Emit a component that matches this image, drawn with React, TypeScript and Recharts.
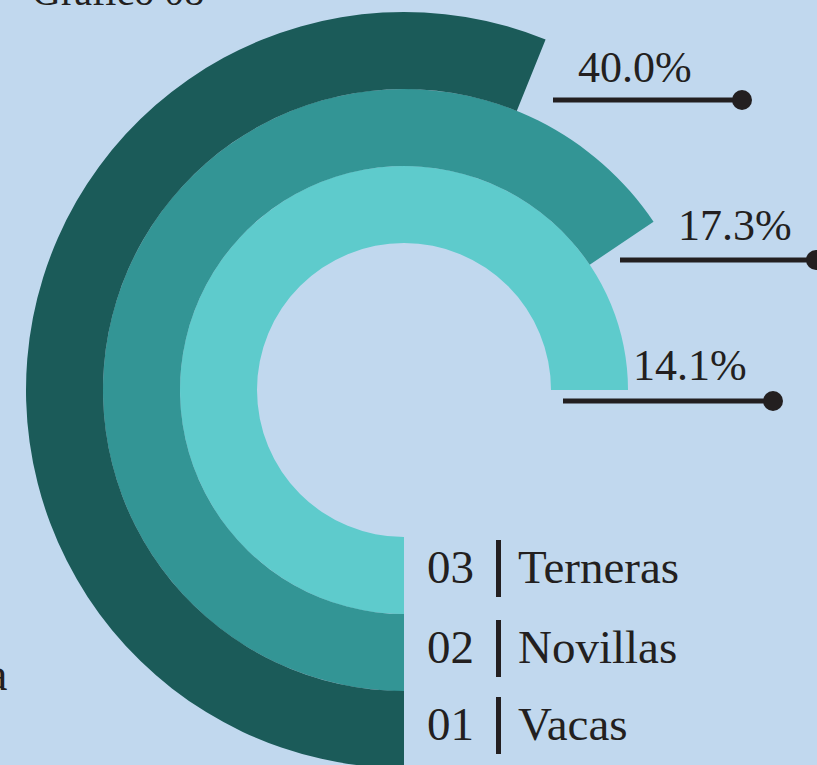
import { RadialBarChart, RadialBar, PolarAngleAxis, Cell } from "recharts";

// inner ring -> outer ring
const categories = ["Terneras", "Novillas", "Vacas"];
const codes = ["03", "02", "01"];
const shares = [14.1, 17.3, 40.0];
// sweep of each arc in degrees, as drawn in the graphic
const sweeps = [270, 236, 202];

const colours = ["#5ecbcc", "#339595", "#1b5b59"];
const ink = "#231f20";
const bg = "#c1d8ee";
const font = "'Liberation Serif', 'DejaVu Serif', serif";

const data = categories.map((name, i) => ({ name, sweep: sweeps[i], share: shares[i] }));

// callout lines for each ring (inner -> outer)
const callouts = [
  { tx: 633, ty: 380, x1: 563, x2: 773, y: 401 },
  { tx: 678, ty: 240, x1: 620, x2: 816, y: 260 },
  { tx: 578, ty: 82, x1: 553, x2: 742, y: 100 },
];
const legendRows = [583, 663, 740];

export default function App() {
  return (
    <div
      style={{
        position: "absolute",
        left: 0,
        top: 0,
        width: 817,
        height: 765,
        background: bg,
        overflow: "hidden",
      }}
    >
      <RadialBarChart
        width={817}
        height={765}
        cx={404}
        cy={390}
        innerRadius={147}
        outerRadius={378}
        startAngle={270}
        endAngle={0}
        barCategoryGap={0}
        data={data}
        margin={{ top: 0, right: 0, bottom: 0, left: 0 }}
      >
        <PolarAngleAxis type="number" domain={[0, 270]} tick={false} axisLine={false} />
        <RadialBar dataKey="sweep" isAnimationActive={false}>
          {data.map((d, i) => (
            <Cell key={d.name} fill={colours[i]} />
          ))}
        </RadialBar>
      </RadialBarChart>

      <svg
        width={817}
        height={765}
        style={{ position: "absolute", left: 0, top: 0, pointerEvents: "none" }}
      >
        <text x={32} y={5} fontFamily={font} fontSize={40} fill={ink}>
          Gráfico 08
        </text>
        <text x={-13} y={690} fontFamily={font} fontSize={46} fill={ink}>
          a
        </text>

        {callouts.map((c, i) => (
          <g key={categories[i]}>
            <text x={c.tx} y={c.ty} fontFamily={font} fontSize={44} fill={ink}>
              {shares[i].toFixed(1)}%
            </text>
            <line x1={c.x1} x2={c.x2} y1={c.y} y2={c.y} stroke={ink} strokeWidth={5} />
            <circle cx={c.x2} cy={c.y} r={10} fill={ink} />
          </g>
        ))}

        {legendRows.map((y, i) => (
          <g key={codes[i]}>
            <text x={427} y={y} fontFamily={font} fontSize={47} fill={ink}>
              {codes[i]}
            </text>
            <rect x={496} y={y - 43} width={5} height={57} fill={ink} />
            <text x={518} y={y} fontFamily={font} fontSize={47} fill={ink}>
              {categories[i]}
            </text>
          </g>
        ))}
      </svg>
    </div>
  );
}
